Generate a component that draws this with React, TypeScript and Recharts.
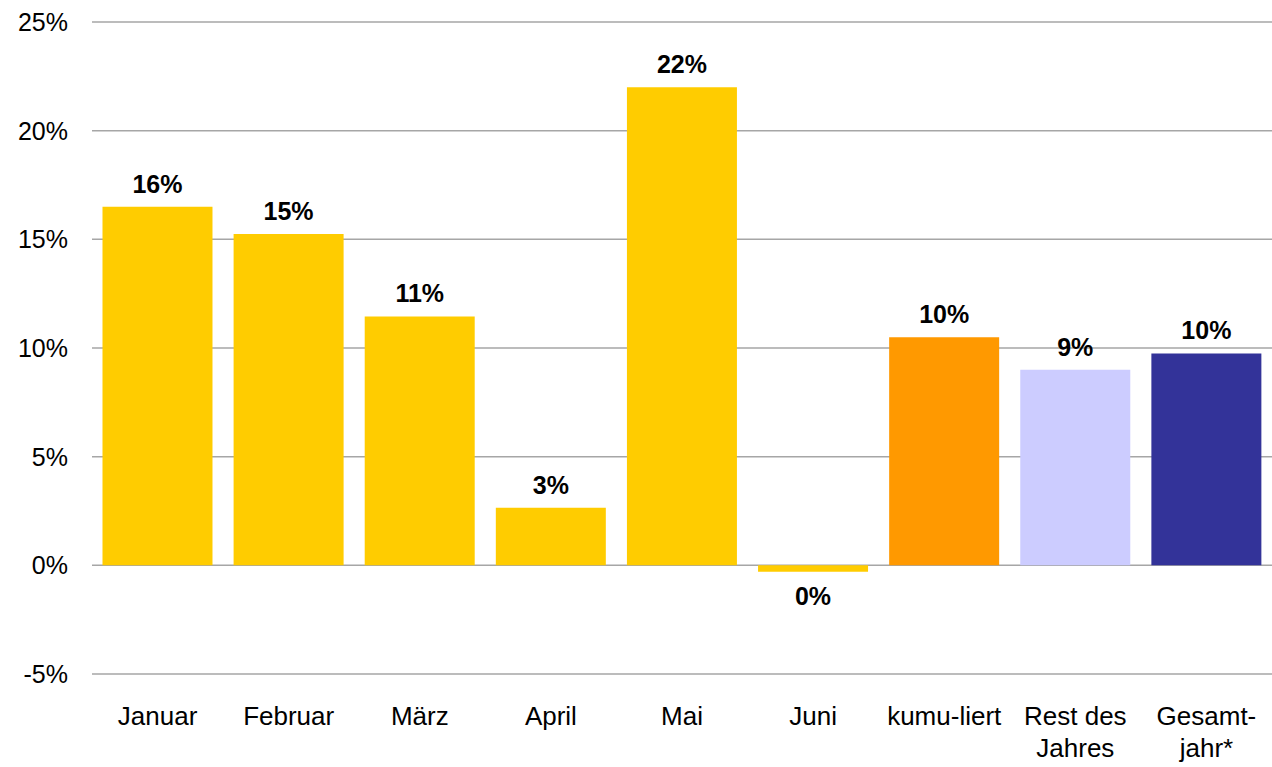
import React from "react";
import { BarChart, Bar, XAxis, YAxis, CartesianGrid, Cell, LabelList } from "recharts";

const categories = ["Januar", "Februar", "März", "April", "Mai", "Juni", "kumu-liert", "Rest des Jahres", "Gesamt-jahr*"];
const tickLines: string[][] = [["Januar"], ["Februar"], ["März"], ["April"], ["Mai"], ["Juni"], ["kumu-liert"], ["Rest des", "Jahres"], ["Gesamt-", "jahr*"]];
const values = [16.5, 15.25, 11.45, 2.65, 22.0, -0.3, 10.5, 9.0, 9.75];
const valueLabels = ["16%", "15%", "11%", "3%", "22%", "0%", "10%", "9%", "10%"];
const colors = ["#FFCC00", "#FFCC00", "#FFCC00", "#FFCC00", "#FFCC00", "#FFCC00", "#FF9900", "#CCCCFF", "#333399"];
const yTicks = [-5, 0, 5, 10, 15, 20, 25];

const data = categories.map((c, i) => ({ name: c, value: values[i], label: valueLabels[i], idx: i }));

const FONT = "'Liberation Sans', Arial, sans-serif";

const XTick = (props: any) => {
  const { x, y, payload } = props;
  const lines = tickLines[payload.index] || [payload.value];
  return (
    <text x={x} y={y} textAnchor="middle" fill="#000" fontSize={26} fontFamily={FONT}>
      {lines.map((l, i) => (
        <tspan key={i} x={x} dy={i === 0 ? 43 : 32}>{l}</tspan>
      ))}
    </text>
  );
};

const ValueLabel = (props: any) => {
  const { x, y, width, height, index } = props;
  const v = values[index];
  const cx = x + width / 2;
  const top = Math.min(y, y + height);
  const bottom = Math.max(y, y + height);
  const ty = v >= 0 ? top - 14 : bottom + 33;
  return (
    <text x={cx} y={ty} textAnchor="middle" fill="#000" fontSize={25} fontWeight="bold" fontFamily={FONT}>
      {valueLabels[index]}
    </text>
  );
};

export default function App() {
  return (
    <div style={{ position: "absolute", left: 0, top: 0, width: 1272, height: 767, background: "#fff" }}>
      <BarChart width={1272} height={767} data={data} margin={{ top: 22, right: 0, bottom: 0, left: 0 }} barCategoryGap="8%">
        <CartesianGrid horizontal vertical={false} stroke="#A6A6A6" strokeWidth={1.5} />
        <XAxis dataKey="name" axisLine={false} tickLine={false} tick={<XTick />} interval={0} height={93} />
        <YAxis
          width={92}
          domain={[-5, 25]}
          ticks={yTicks}
          axisLine={false}
          tickLine={false}
          tickSize={0}
          tickMargin={24}
          tickFormatter={(v: number) => `${v}%`}
          tick={{ fill: "#000", fontSize: 25, fontFamily: FONT }}
        />
        <Bar dataKey="value" isAnimationActive={false}>
          {data.map((d, i) => (
            <Cell key={i} fill={colors[i]} />
          ))}
          <LabelList dataKey="label" content={<ValueLabel />} />
        </Bar>
      </BarChart>
    </div>
  );
}
